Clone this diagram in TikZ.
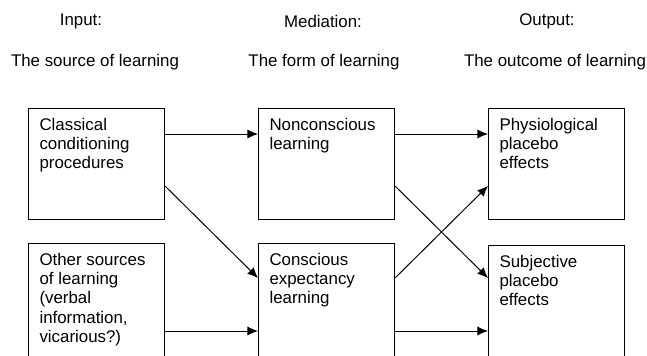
\documentclass[tikz,border=0pt]{standalone}
\usepackage{fontspec}
\setmainfont{Liberation Sans}
\usetikzlibrary{arrows.meta,calc}

\tikzset{
	box/.style={draw, line width=0.7pt, inner sep=0pt, minimum width=3.4cm, anchor=north west},
	txt/.style={align=left, anchor=north west, inner xsep=8pt, inner ysep=7pt, font=\fontsize{12}{13.7}\selectfont},
	head/.style={font=\fontsize{12}{13.7}\selectfont},
	arr/.style={line width=0.7pt, -{Latex[length=7.5pt,width=6.5pt]}}
}

\begin{document}
\begin{tikzpicture}[x=0.025cm, y=-0.025cm]
	\path[use as bounding box] (0,0) rectangle (647,356);
	\clip (0,0) rectangle (647,356);

	\node[head] (inp) at (81, 21) {Input:};
	\node[head] (src) at (95, 62) {The source of learning};
	\node[head] (med) at (323, 21) {Mediation:};
	\node[head] (form) at (324, 62) {The form of learning};
	\node[head] (outp) at (547, 21) {Output:};
	\node[head] (outc) at (555, 62) {The outcome of learning};

	\node[box, minimum height=2.775cm, label={[txt]north west:{Classical\\conditioning\\procedures}}] (clas) at (28, 108) {};
	\node[box, minimum height=3.1cm, label={[txt]north west:{Other sources\\of learning\\(verbal\\information,\\vicarious?)}}] (other) at (28, 243) {};

	\node[box, minimum height=2.775cm, label={[txt]north west:{Nonconscious\\learning}}] (nonc) at (258, 108) {};
	\node[box, minimum height=3.1cm, label={[txt]north west:{Conscious\\expectancy\\learning}}] (consc) at (258, 243) {};

	\node[box, minimum height=2.775cm, label={[txt]north west:{Physiological\\placebo\\effects}}] (phys) at (488, 108) {};
	\node[box, minimum height=3.1cm, label={[txt]north west:{Subjective\\placebo\\effects}}] (subj) at (488, 245) {};

	\draw[arr] ($(clas.north east)+(0,26)$) -- ($(nonc.north west)+(0,26)$);
	\draw[arr] ($(clas.north east)+(0,78)$) -- ($(consc.north west)+(0,35)$);
	\draw[arr] ($(other.north east)+(0,88)$) -- ($(consc.north west)+(0,88)$);

	\draw[arr] ($(nonc.north east)+(0,26)$) -- ($(phys.north west)+(0,26)$);
	\draw[arr] ($(nonc.north east)+(0,78)$) -- ($(subj.north west)+(0,33)$);
	\draw[arr] ($(consc.north east)+(0,35)$) -- ($(phys.north west)+(0,78)$);
	\draw[arr] ($(consc.north east)+(0,88)$) -- ($(subj.north west)+(0,86)$);

\end{tikzpicture}
\end{document}
